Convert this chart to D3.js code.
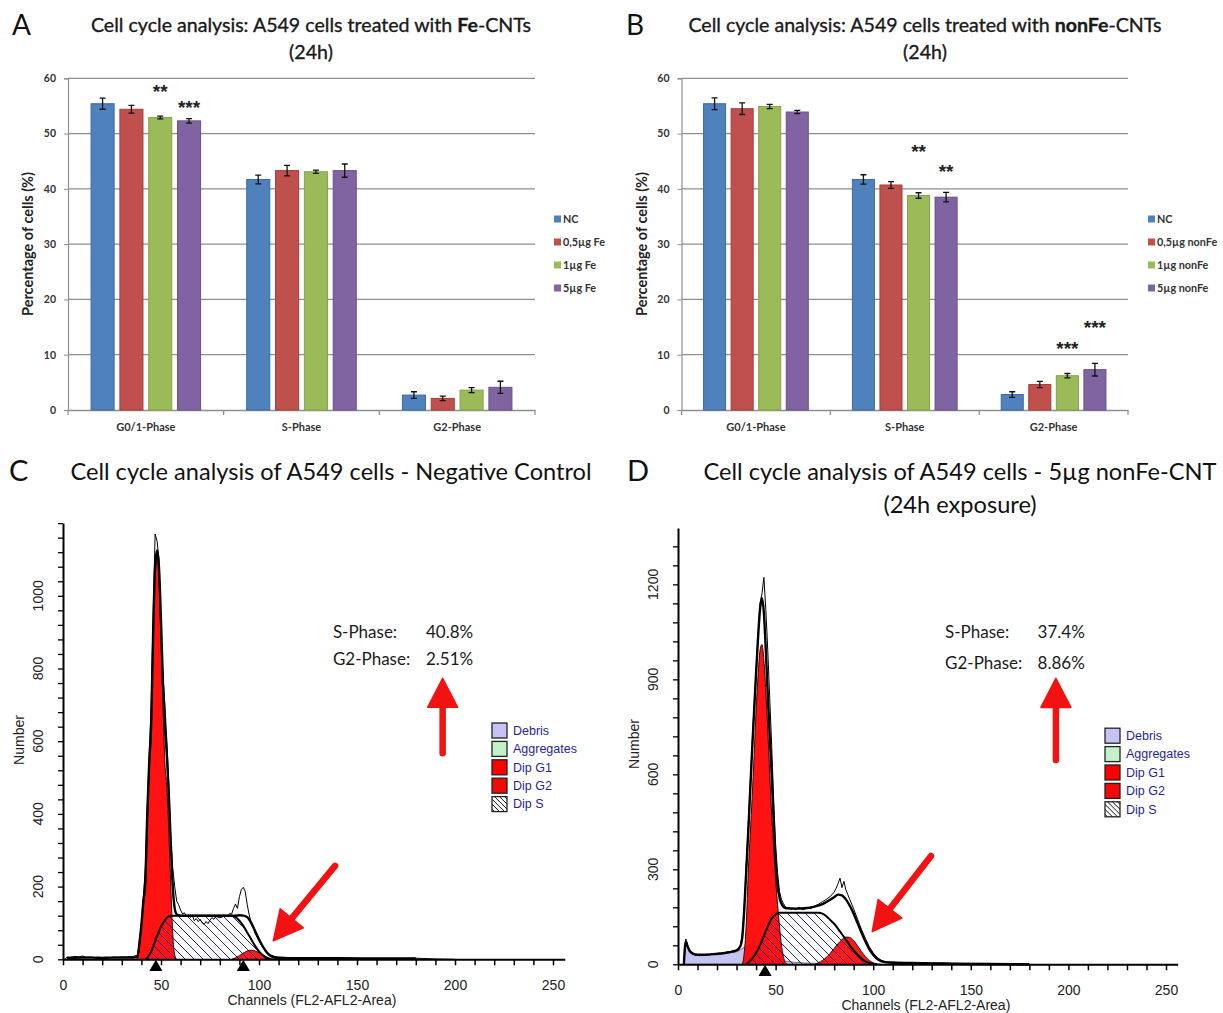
<!DOCTYPE html>
<html>
<head>
<meta charset="utf-8">
<script src="https://cdn.jsdelivr.net/npm/d3@7"></script>
<style>
  body { margin: 0; background: #fff; }
  svg { display: block; }
</style>
</head>
<body>
<svg id="fig" width="1223" height="1013"></svg>
<script>
// ---- bar charts (A, B) ----
const phases = ['G0/1-Phase', 'S-Phase', 'G2-Phase']
const yTicks = [0, 10, 20, 30, 40, 50, 60]
const barColors = ['#4f81bd', '#c0504d', '#9bbb59', '#8064a2']
const barEdges = ['#3b6ba6', '#a63c39', '#85a546', '#69508a']

const feGroups = ['NC', '0,5µg Fe', '1µg Fe', '5µg Fe']
const feNC = [55.4, 41.7, 2.7]
const fe05 = [54.4, 43.3, 2.1]
const fe1 = [52.9, 43.1, 3.6]
const fe5 = [52.3, 43.3, 4.1]
const feNCErr = [1.0, 0.8, 0.6]
const fe05Err = [0.7, 0.95, 0.4]
const fe1Err = [0.25, 0.3, 0.45]
const fe5Err = [0.4, 1.2, 1.1]
const feStars = [
  { phase: 'G0/1-Phase', group: 2, y: 58.4, text: '**' },
  { phase: 'G0/1-Phase', group: 3, y: 55.5, text: '***' }
]

const nonGroups = ['NC', '0,5µg nonFe', '1µg nonFe', '5µg nonFe']
const nonNC = [55.4, 41.7, 2.8]
const non05 = [54.5, 40.7, 4.6]
const non1 = [54.9, 38.8, 6.2]
const non5 = [53.9, 38.5, 7.3]
const nonNCErr = [1.05, 0.85, 0.5]
const non05Err = [1.05, 0.6, 0.57]
const non1Err = [0.4, 0.5, 0.4]
const non5Err = [0.3, 0.87, 1.15]
const nonStars = [
  { phase: 'S-Phase', group: 2, y: 47.6, text: '**' },
  { phase: 'S-Phase', group: 3, y: 43.9, text: '**' },
  { phase: 'G2-Phase', group: 2, y: 11.9, text: '***' },
  { phase: 'G2-Phase', group: 3, y: 15.7, text: '***' }
]

// ---- flow cytometry histograms (C, D): [channel, count] ----
const histLegend = ['Debris', 'Aggregates', 'Dip G1', 'Dip G2', 'Dip S']
const xTicksHist = [0, 50, 100, 150, 200, 250]
const cYTicks = [0, 200, 400, 600, 800, 1000]
const dYTicks = [0, 300, 600, 900, 1200]

const cRaw = [[1,0],[2,6],[4,5],[6,8],[8,6],[10,9],[12,5],[14,6],[16,5],[18,6],[20,5],[22,6],[24,5],[26,6],[28,5],[30,6],[32,5],[34,7],[36,8],[38,12],[39,45],[40,100],[41,170],[42,250],[43,420],[44,560],[45,700],[46,950],[47,1170],[48,1150],[49,1100],[50,900],[51,780],[52,700],[53,600],[54,480],[55,330],[56,250],[57,200],[58,160],[59,150],[60,135],[61,125],[62,128],[63,118],[64,122],[65,115],[66,120],[67,106],[68,112],[69,104],[70,110],[71,100],[72,96],[73,104],[74,98],[75,108],[76,115],[77,110],[78,118],[80,114],[82,118],[84,120],[85,126],[86,124],[87,140],[88,152],[89,140],[90,172],[91,192],[92,198],[93,186],[94,150],[95,122],[96,102],[98,72],[100,50],[102,32],[104,20],[106,12],[108,8],[110,6],[115,5],[120,4],[125,4],[130,3],[135,5],[140,5],[145,3],[150,3],[155,2],[160,2],[170,2],[180,3],[190,1],[200,0]]
const cFit = [[2,4],[10,5],[20,4],[30,5],[36,5],[38,7],[39,45],[40,95],[41,160],[42,215],[43,400],[44,545],[45,650],[46,900],[47,1080],[48,1125],[49,1075],[50,930],[51,760],[52,640],[53,560],[54,450],[55,320],[56,200],[57,140],[58,124],[60,120],[70,120],[80,120],[88,120],[90,121],[92,120],[94,116],[96,100],[98,78],[100,55],[102,35],[104,19],[106,9],[108,5],[110,4],[120,3],[140,3],[160,2],[180,2]]
const cG1 = [[37,0],[38,3],[39,40],[40,90],[41,150],[42,200],[43,380],[44,520],[45,620],[46,880],[47,1060],[48,1110],[49,1040],[50,880],[51,700],[52,540],[53,470],[54,350],[55,200],[56,70],[57,12],[58,0]]
const cS = [[42,0],[43,5],[44,12],[45,22],[46,35],[47,50],[48,65],[49,78],[50,90],[51,100],[52,108],[53,114],[54,118],[55,120],[70,120],[86,120],[88,116],[90,106],[92,92],[94,74],[96,55],[98,37],[100,22],[102,11],[104,4],[106,0]]
const cG2 = [[86,0],[88,4],[90,10],[92,17],[94,23],[96,25],[98,23],[100,18],[102,12],[104,6],[106,2],[108,0]]
const cDebris = []
const cMarkers = [47.4, 92]
const cStats = [['S-Phase:', '40.8%'], ['G2-Phase:', '2.51%']]

const dRaw = [[3,0],[4,80],[5,58],[6,42],[7,36],[8,31],[9,28],[10,30],[11,27],[12,29],[13,31],[14,28],[15,32],[16,30],[17,33],[18,31],[19,34],[20,33],[21,36],[22,34],[23,37],[24,35],[25,39],[26,37],[27,40],[28,42],[29,41],[30,45],[31,50],[32,62],[33,95],[34,190],[35,320],[36,440],[37,570],[38,700],[39,820],[40,930],[41,1040],[42,1140],[43,1170],[44,1222],[45,1120],[46,990],[47,840],[48,690],[49,520],[50,380],[51,290],[52,230],[53,205],[54,192],[55,182],[56,176],[57,180],[58,174],[59,178],[60,172],[62,180],[64,172],[66,178],[68,176],[70,184],[72,190],[74,198],[76,205],[78,214],[80,228],[81,240],[82,255],[83,272],[84,242],[85,262],[86,235],[87,220],[88,205],[90,175],[92,142],[94,110],[96,82],[98,56],[100,36],[102,22],[104,13],[106,9],[110,7],[115,6],[120,5],[130,4],[140,3],[150,2],[160,2],[170,1],[180,0]]
const dFit = [[3,0],[4,72],[5,55],[6,42],[8,33],[10,30],[14,30],[18,32],[22,34],[26,38],[30,44],[32,58],[33,90],[34,180],[35,300],[36,420],[37,550],[38,680],[39,800],[40,920],[41,1030],[42,1120],[43,1156],[44,1110],[45,990],[46,850],[47,720],[48,600],[49,450],[50,320],[51,250],[52,210],[53,192],[54,182],[55,178],[60,176],[65,177],[70,182],[74,190],[78,204],[80,212],[82,220],[84,218],[86,205],[88,185],[90,160],[92,130],[94,100],[96,72],[98,48],[100,30],[102,17],[104,10],[106,7],[110,5],[120,4],[130,3],[140,2],[160,1],[180,0]]
const dG1 = [[33,0],[34,40],[35,130],[36,290],[37,410],[38,530],[39,660],[40,800],[41,910],[42,990],[43,1010],[44,960],[45,860],[46,740],[47,600],[48,470],[49,370],[50,270],[51,190],[52,120],[53,60],[54,25],[55,5],[56,0]]
const dS = [[35,0],[36,6],[38,18],[40,36],[42,60],[44,90],[46,120],[48,145],[50,158],[52,163],[60,163],[72,163],[74,160],[76,152],[78,140],[80,128],[82,112],[84,95],[86,78],[88,60],[90,44],[92,30],[94,18],[96,9],[98,4],[100,1],[102,0]]
const dG2 = [[70,0],[72,5],[74,12],[76,22],[78,35],[80,50],[82,65],[84,78],[86,86],[88,85],[90,75],[92,58],[94,40],[96,24],[98,12],[100,5],[102,1],[104,0]]
const dDebris = [[3,0],[4,74],[5,58],[6,46],[7,39],[8,35],[10,31],[14,29],[18,31],[22,33],[26,36],[30,40],[32,46],[34,54],[36,60],[38,62],[40,58],[42,50],[44,40],[46,30],[48,22],[50,16],[55,10],[60,6],[70,3],[80,1],[90,0]]
const dMarkers = [44.6]
const dStats = [['S-Phase:', '37.4%'], ['G2-Phase:', '8.86%']]

const svg = d3.select('#fig')
svg.append('rect').attr('width', 1223).attr('height', 1013).attr('fill', '#fff')

const defs = svg.append('defs')
const hatch = defs.append('pattern').attr('id', 'hatch')
  .attr('patternUnits', 'userSpaceOnUse').attr('width', 9).attr('height', 9)
hatch.append('path').attr('d', 'M-1,-1 L10,10 M-1,8 L1,10 M8,-1 L10,1')
  .attr('stroke', '#23238c').attr('stroke-width', 1)
const hatchK = defs.append('pattern').attr('id', 'hatchK')
  .attr('patternUnits', 'userSpaceOnUse').attr('width', 5).attr('height', 5)
hatchK.append('path').attr('d', 'M-1,-1 L6,6 M-1,4 L1,6 M4,-1 L6,1')
  .attr('stroke', '#111').attr('stroke-width', 1)

function barPanel(cfg) {
  const g = svg.append('g')
  const x0 = d3.scaleBand().domain(phases).range([cfg.left, cfg.right])
  const x1 = d3.scaleBand().domain(d3.range(4)).range([0, x0.bandwidth()])
    .paddingInner(0.2).paddingOuter(0.8)
  const y = d3.scaleLinear().domain([0, 60]).range([410, 78.3])

  g.append('g').selectAll('line').data(yTicks.slice(1)).join('line')
    .attr('x1', cfg.left).attr('x2', cfg.right)
    .attr('y1', d => y(d)).attr('y2', d => y(d))
    .attr('stroke', '#8f8f8f').attr('stroke-width', 1.2)

  const ya = g.append('g').attr('transform', `translate(${cfg.left},0)`)
    .call(d3.axisLeft(y).tickValues(yTicks).tickSize(4).tickPadding(8))
  ya.select('.domain').attr('stroke', '#8f8f8f').attr('stroke-width', 1.2)
  ya.selectAll('.tick line').attr('stroke', '#8f8f8f')
  ya.selectAll('text').attr('font-family', 'Lato').attr('font-weight', 'bold')
    .attr('font-size', 10.5).attr('fill', '#333')

  const xa = g.append('g').attr('transform', 'translate(0,410)')
    .call(d3.axisBottom(x0).tickSize(0).tickPadding(13))
  xa.select('.domain').attr('stroke', '#8f8f8f').attr('stroke-width', 1.4)
  xa.selectAll('text').attr('font-family', 'Lato').attr('font-weight', 'bold')
    .attr('font-size', 11).attr('fill', '#333')
  g.append('g').selectAll('line').data(phases.map(p => x0(p)).concat([cfg.right])).join('line')
    .attr('x1', d => d).attr('x2', d => d).attr('y1', 410).attr('y2', 415)
    .attr('stroke', '#8f8f8f').attr('stroke-width', 1.2)

  const rows = cfg.values.flatMap((vals, i) =>
    vals.map((v, j) => ({ i, phase: phases[j], v, e: cfg.errors[i][j] })))

  g.append('g').selectAll('rect').data(rows).join('rect')
    .attr('x', d => x0(d.phase) + x1(d.i))
    .attr('y', d => y(d.v))
    .attr('width', x1.bandwidth())
    .attr('height', d => y(0) - y(d.v))
    .attr('fill', d => barColors[d.i])
    .attr('stroke', d => barEdges[d.i]).attr('stroke-width', 1)

  g.append('g').selectAll('path').data(rows).join('path')
    .attr('d', d => {
      const cx = x0(d.phase) + x1(d.i) + x1.bandwidth() / 2
      const t = y(d.v + d.e), b = y(d.v - d.e)
      return `M${cx - 3},${t}H${cx + 3}M${cx},${t}V${b}M${cx - 3},${b}H${cx + 3}`
    })
    .attr('stroke', '#111').attr('stroke-width', 1.3).attr('fill', 'none')

  g.append('g').selectAll('text').data(cfg.stars).join('text')
    .attr('x', d => x0(d.phase) + x1(d.group) + x1.bandwidth() / 2)
    .attr('y', d => y(d.y) + 11)
    .attr('text-anchor', 'middle')
    .attr('font-family', 'Liberation Sans').attr('font-weight', 'bold').attr('font-size', 19)
    .attr('fill', '#222')
    .text(d => d.text)

  const leg = g.append('g').selectAll('g').data(cfg.groups).join('g')
    .attr('transform', (d, i) => `translate(${cfg.legX},${219 + i * 23})`)
  leg.append('rect').attr('x', 0).attr('y', -3.5).attr('width', 7).attr('height', 7)
    .attr('fill', (d, i) => barColors[i])
  leg.append('text').attr('x', 9).attr('y', 4)
    .attr('font-family', 'Lato').attr('font-weight', 'bold').attr('font-size', 10.8)
    .attr('fill', '#333').text(d => d)

  g.append('text')
    .attr('transform', `translate(${cfg.left - 35},244) rotate(-90)`)
    .attr('text-anchor', 'middle')
    .attr('font-family', 'Lato').attr('font-weight', 'bold').attr('font-size', 14.5)
    .attr('fill', '#222').text('Percentage of cells (%)')

  g.append('text').attr('x', cfg.letterX).attr('y', 35)
    .attr('font-family', 'Lato').attr('font-size', 28).attr('fill', '#111').text(cfg.letter)
  const t = g.append('text').attr('x', cfg.titleX).attr('y', 32).attr('text-anchor', 'middle')
    .attr('font-family', 'Lato').attr('font-size', 19.6).attr('fill', '#1a1a1a')
    .attr('stroke', '#1a1a1a').attr('stroke-width', 0.35)
  t.append('tspan').text('Cell cycle analysis: A549 cells treated with ')
  t.append('tspan').attr('font-weight', 'bold').text(cfg.bold)
  t.append('tspan').text('-CNTs')
  g.append('text').attr('x', cfg.titleX).attr('y', 59).attr('text-anchor', 'middle')
    .attr('font-family', 'Lato').attr('font-size', 19.6).attr('fill', '#1a1a1a')
    .attr('stroke', '#1a1a1a').attr('stroke-width', 0.35).text('(24h)')
}

barPanel({
  left: 68, right: 535, groups: feGroups,
  values: [feNC, fe05, fe1, fe5], errors: [feNCErr, fe05Err, fe1Err, fe5Err],
  stars: feStars, legX: 554, letter: 'A', letterX: 12, titleX: 311, bold: 'Fe'
})
barPanel({
  left: 681.5, right: 1128, groups: nonGroups,
  values: [nonNC, non05, non1, non5], errors: [nonNCErr, non05Err, non1Err, non5Err],
  stars: nonStars, legX: 1148, letter: 'B', letterX: 626, titleX: 925, bold: 'nonFe'
})

function histPanel(cfg) {
  const g = svg.append('g')
  const x = d3.scaleLinear().domain([0, 256]).range([cfg.left, cfg.left + 256 * cfg.pxPerCh])
  const y = d3.scaleLinear().domain([0, cfg.yMax]).range([cfg.base, cfg.top])
  const area = d3.area().x(d => x(d[0])).y0(y(0)).y1(d => y(d[1])).curve(d3.curveMonotoneX)
  const line = d3.line().x(d => x(d[0])).y(d => y(d[1])).curve(d3.curveMonotoneX)
  const jag = d3.line().x(d => x(d[0])).y(d => y(d[1]))

  if (cfg.debris.length) {
    g.append('path').attr('d', area(cfg.debris)).attr('fill', '#c4c4f2')
      .attr('stroke', '#555').attr('stroke-width', 0.8)
  }
  g.append('path').attr('d', area(cfg.g1)).attr('fill', '#ff0000').attr('fill-opacity', 0.93)
  g.append('path').attr('d', area(cfg.g2)).attr('fill', '#ff0000').attr('fill-opacity', 0.9)
  g.append('path').attr('d', area(cfg.s)).attr('fill', 'url(#hatch)')
  g.append('path').attr('d', line(cfg.g1)).attr('fill', 'none').attr('stroke', '#400').attr('stroke-width', 1)
  g.append('path').attr('d', line(cfg.g2)).attr('fill', 'none').attr('stroke', '#400').attr('stroke-width', 1)
  g.append('path').attr('d', line(cfg.s)).attr('fill', 'none').attr('stroke', '#000').attr('stroke-width', 2)
  g.append('path').attr('d', line(cfg.fit)).attr('fill', 'none').attr('stroke', '#000').attr('stroke-width', 2.4)
  g.append('path').attr('d', jag(cfg.raw)).attr('fill', 'none').attr('stroke', '#000').attr('stroke-width', 1)

  // axes
  const xa = g.append('g').attr('transform', `translate(0,${cfg.base})`)
    .call(d3.axisBottom(x).tickValues(d3.range(0, 251, 10)).tickSize(6).tickSizeOuter(0)
      .tickPadding(15).tickFormat(d => xTicksHist.includes(d) ? d : ''))
  xa.select('.domain').attr('stroke', '#000').attr('stroke-width', 2)
  xa.selectAll('.tick line').attr('stroke', '#000').attr('stroke-width', 1.5)
  xa.selectAll('text').attr('font-family', 'Liberation Sans').attr('font-size', 14).attr('fill', '#222')

  const ya = g.append('g').attr('transform', `translate(${cfg.left},0)`)
    .call(d3.axisLeft(y).tickValues(d3.range(0, cfg.yMax + 1, cfg.minor)).tickSize(5)
      .tickSizeOuter(0).tickFormat(''))
  ya.select('.domain').attr('stroke', '#000').attr('stroke-width', 2)
  ya.selectAll('.tick line').attr('stroke', '#000').attr('stroke-width', 1.3)
  g.append('g').selectAll('text').data(cfg.yLabels).join('text')
    .attr('transform', d => `translate(${cfg.left - 25},${y(d)}) rotate(-90)`)
    .attr('text-anchor', 'middle').attr('dy', '0.36em')
    .attr('font-family', 'Liberation Sans').attr('font-size', 14).attr('fill', '#222')
    .text(d => d)

  g.append('text')
    .attr('transform', `translate(${cfg.left - 44},${cfg.numY}) rotate(-90)`)
    .attr('text-anchor', 'middle').attr('dy', '0.36em')
    .attr('font-family', 'Liberation Sans').attr('font-size', 14).attr('fill', '#222').text('Number')
  g.append('text').attr('x', x(127)).attr('y', cfg.base + 46).attr('text-anchor', 'middle')
    .attr('font-family', 'Liberation Sans').attr('font-size', 14).attr('fill', '#222')
    .text('Channels (FL2-AFL2-Area)')

  g.append('g').selectAll('path').data(cfg.markers).join('path')
    .attr('transform', d => `translate(${x(d)},${cfg.base + 8})`)
    .attr('d', d3.symbol(d3.symbolTriangle, 75)).attr('fill', '#000')

  // phase summary text
  const st = g.append('g').selectAll('g').data(cfg.stats).join('g')
  st.append('text').attr('x', x(cfg.statX)).attr('y', (d, i) => y(cfg.statY[i]))
    .attr('font-family', 'Lato').attr('font-size', 17).attr('fill', '#1a1a1a').text(d => d[0])
  st.append('text').attr('x', x(cfg.valX)).attr('y', (d, i) => y(cfg.statY[i]))
    .attr('font-family', 'Lato').attr('font-size', 17).attr('fill', '#1a1a1a').text(d => d[1])

  // red arrows
  function arrow(a, b) {
    const x1 = x(a[0]), y1 = y(a[1]), x2 = x(b[0]), y2 = y(b[1])
    const L = Math.hypot(x2 - x1, y2 - y1), ux = (x2 - x1) / L, uy = (y2 - y1) / L
    const hl = 29, hw = 15
    const bx = x2 - ux * hl, by = y2 - uy * hl
    g.append('line').attr('x1', x1).attr('y1', y1).attr('x2', bx + ux * 2).attr('y2', by + uy * 2)
      .attr('stroke', '#f21212').attr('stroke-width', 6.5).attr('stroke-linecap', 'round')
    g.append('path')
      .attr('d', `M${x2},${y2}L${bx - uy * hw},${by + ux * hw}L${bx + uy * hw},${by - ux * hw}Z`)
      .attr('fill', '#f21212').attr('stroke', '#f21212').attr('stroke-width', 1.5).attr('stroke-linejoin', 'round')
  }
  cfg.arrows.forEach(a => arrow(a[0], a[1]))

  // legend
  const fills = ['#c4c4f2', '#c4f2c8', '#ff0000', '#f00a0a', 'url(#hatchK)']
  const lg = g.append('g').selectAll('g').data(histLegend).join('g')
    .attr('transform', (d, i) => `translate(${cfg.legX},${cfg.legY + i * 18.4})`)
  lg.append('rect').attr('x', 0).attr('y', -7.5).attr('width', 15).attr('height', 15)
    .attr('fill', (d, i) => fills[i]).attr('stroke', '#222').attr('stroke-width', 1.3)
  lg.append('text').attr('x', 21).attr('y', 0).attr('dy', '0.35em')
    .attr('font-family', 'Liberation Sans').attr('font-size', 12.5).attr('fill', '#1f1fa0').text(d => d)

  g.append('text').attr('x', cfg.letterX).attr('y', 481)
    .attr('font-family', 'Lato').attr('font-size', 29).attr('fill', '#111').text(cfg.letter)
  cfg.title.forEach((t, i) => {
    g.append('text').attr('x', cfg.titleX).attr('y', 480 + i * 33).attr('text-anchor', 'middle')
      .attr('font-family', 'Lato').attr('font-size', 23.6).attr('fill', '#111').text(t)
  })
}

histPanel({
  left: 63, pxPerCh: 1.96, base: 959.3, top: 523.1, yMax: 1200, minor: 40,
  yLabels: cYTicks, numY: 740,
  raw: cRaw, fit: cFit, g1: cG1, s: cS, g2: cG2, debris: cDebris, markers: cMarkers,
  stats: cStats, statX: 137.7, valX: 185.2, statY: [885, 810],
  arrows: [[[193.7, 567], [193.7, 773]], [[138.8, 257], [107.3, 51]]],
  legX: 492, legY: 730.5,
  letter: 'C', letterX: 9, titleX: 331,
  title: ['Cell cycle analysis of A549 cells - Negative Control']
})
histPanel({
  left: 678, pxPerCh: 1.952, base: 964.3, top: 528, yMax: 1378, minor: 60,
  yLabels: dYTicks, numY: 744,
  raw: dRaw, fit: dFit, g1: dG1, s: dS, g2: dG2, debris: dDebris, markers: dMarkers,
  stats: dStats, statX: 136.8, valX: 184.2, statY: [1030, 932],
  arrows: [[[193.6, 645], [193.6, 903]], [[129.6, 342], [99.5, 103]]],
  legX: 1105, legY: 735.7,
  letter: 'D', letterX: 627, titleX: 960,
  title: ['Cell cycle analysis of A549 cells - 5µg nonFe-CNT', '(24h exposure)']
})
</script>
</body>
</html>
